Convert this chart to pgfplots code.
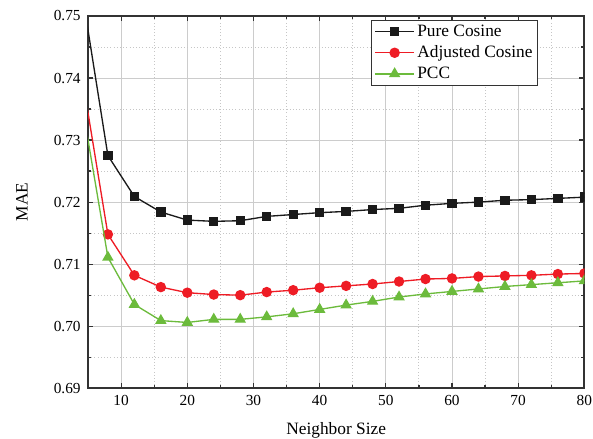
\documentclass[border=0pt]{standalone}
\usepackage{pgfplots}
\pgfplotsset{compat=1.18}
\usepackage{fontspec}
\setmainfont{Liberation Serif}
\definecolor{cPure}{HTML}{1A1A1A}
\definecolor{cAdj}{HTML}{EE1C25}
\definecolor{cPCC}{HTML}{6CBB3C}
\begin{document}
\begin{tikzpicture}
\begin{axis}[
  name=main,
  width=372pt, height=279pt, scale only axis,
  xmin=5, xmax=80, ymin=0.69, ymax=0.75,
  xtick={10,20,...,80}, minor xtick={15,25,...,75},
  ytick={0.69,0.70,...,0.75}, minor ytick={0.695,0.705,...,0.745},
  yticklabel style={/pgf/number format/fixed,/pgf/number format/fixed zerofill,/pgf/number format/precision=2, xshift=-2pt},
  xticklabel style={yshift=-1.5pt},
  /pgf/number format/assume math mode=true,
  tick label style={font=\fontsize{11.5}{13}\selectfont},
  xlabel={Neighbor Size}, ylabel={MAE},
  every axis x label/.style={at={([yshift=-31.5pt]axis description cs:0.5,0)}, anchor=center},
  every axis y label/.style={at={([xshift=-49.5pt]axis description cs:0,0.5)}, anchor=center, rotate=90},
  label style={font=\fontsize{13}{15}\selectfont},
  tick align=inside, tick pos=both,
  major tick length=4pt, minor tick length=2.5pt,
  every tick/.style={black!80, line width=0.9pt},
  axis line style={black!80, line width=1.3pt},
  grid=both,
  major grid style={gray!40, line width=0.7pt},
  minor grid style={gray!45, dotted, line width=0.7pt},
  clip marker paths=true,
  legend style={at={(0.571,0.99)}, anchor=north west, font=\fontsize{13}{15}\selectfont,
    draw=black!80, line width=0.8pt, inner xsep=2pt, inner ysep=1.5pt, row sep=1.5pt,
    /tikz/every even column/.append style={column sep=2pt}},
  legend cell align=left,
  legend image code/.code={\draw[#1] (0pt,0pt) -- (14.5pt,0pt) -- (29pt,0pt); \path[#1] plot coordinates {(14.5pt,0pt)};},
]
\addplot[cPure, line width=1pt, mark=square*, mark size=3pt, mark options={solid}] coordinates {
 (4,0.7544) (8,0.7275) (12,0.7209) (16,0.7184) (20,0.7171) (24,0.7169) (28,0.7170)
 (32,0.7177) (36,0.7180) (40,0.7183) (44,0.7185) (48,0.7188) (52,0.7190) (56,0.7195)
 (60,0.7198) (64,0.7200) (68,0.7203) (72,0.7204) (76,0.7206) (80,0.7208)};
\addplot[cAdj, line width=1pt, mark=*, mark size=3.4pt] coordinates {
 (4,0.7409) (8,0.7148) (12,0.7082) (16,0.7063) (20,0.7054) (24,0.7051) (28,0.7050)
 (32,0.7055) (36,0.7058) (40,0.7062) (44,0.7065) (48,0.7068) (52,0.7072) (56,0.7076)
 (60,0.7077) (64,0.7080) (68,0.7081) (72,0.7082) (76,0.7084) (80,0.7085)};
\addplot[cPCC, line width=1pt, mark=triangle*, mark size=4pt] coordinates {
 (4,0.7363) (8,0.7111) (12,0.7035) (16,0.7009) (20,0.7006) (24,0.7011) (28,0.7011)
 (32,0.7015) (36,0.7020) (40,0.7027) (44,0.7034) (48,0.7040) (52,0.7047) (56,0.7052)
 (60,0.7056) (64,0.7060) (68,0.7064) (72,0.7067) (76,0.7070) (80,0.7073)};
\legend{Pure Cosine, Adjusted Cosine, PCC}
\end{axis}
\pgfresetboundingbox
\path ([xshift=-66pt,yshift=-37.5pt]main.south west) rectangle ([xshift=6.5pt,yshift=12pt]main.north east);
\end{tikzpicture}
\end{document}
